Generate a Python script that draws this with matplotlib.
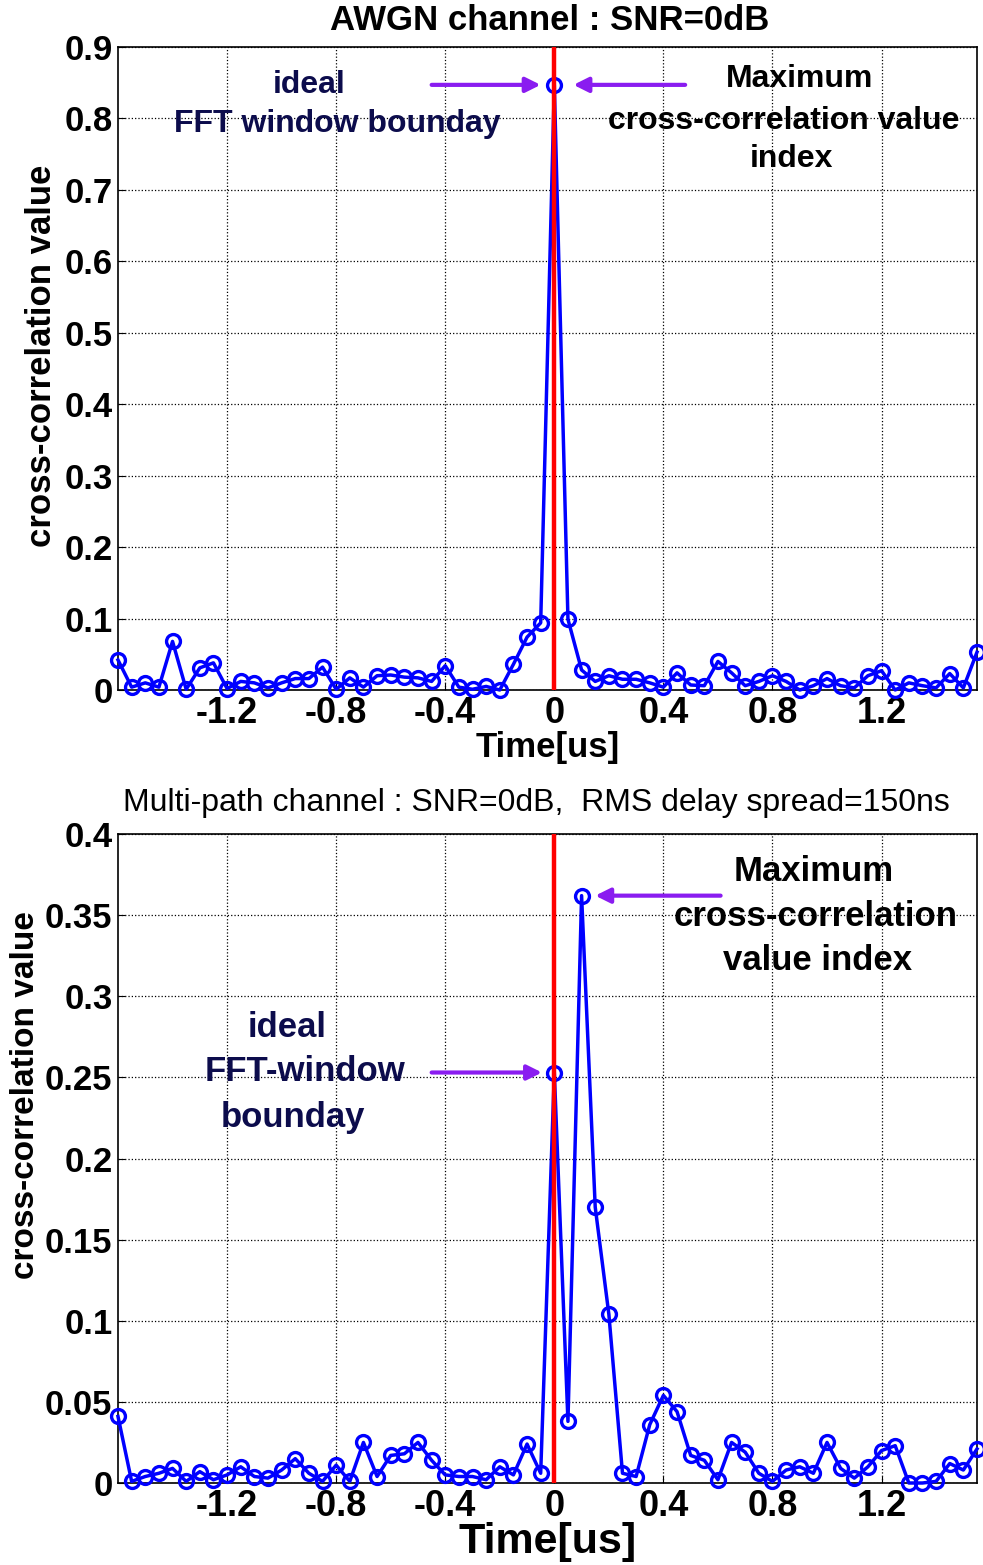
import matplotlib
matplotlib.use("Agg")
import matplotlib.pyplot as plt
import numpy as np

# 时间轴 (us)，64 点，间隔 0.05us
time_us = np.round(np.arange(-1.6, 1.551, 0.05), 2)

# AWGN 信道互相关值
awgn_corr = [0.042, 0.004, 0.010, 0.004, 0.068, 0.001, 0.031, 0.038, 0.002, 0.012,
             0.010, 0.003, 0.010, 0.016, 0.016, 0.032, 0.001, 0.017, 0.004, 0.020,
             0.021, 0.018, 0.017, 0.012, 0.034, 0.004, 0.001, 0.005, 0.000, 0.036,
             0.074, 0.094, 0.847, 0.099, 0.028, 0.012, 0.020, 0.015, 0.015, 0.010,
             0.004, 0.024, 0.007, 0.006, 0.040, 0.024, 0.006, 0.012, 0.020, 0.012,
             0.000, 0.006, 0.016, 0.006, 0.003, 0.020, 0.027, 0.000, 0.010, 0.006,
             0.003, 0.023, 0.003, 0.053]

# 多径信道互相关值
multi_corr = [0.041, 0.001, 0.004, 0.006, 0.009, 0.001, 0.007, 0.002, 0.005, 0.010,
              0.004, 0.003, 0.008, 0.015, 0.006, 0.001, 0.011, 0.001, 0.025, 0.004,
              0.017, 0.018, 0.025, 0.014, 0.005, 0.004, 0.004, 0.002, 0.010, 0.005,
              0.024, 0.006, 0.253, 0.038, 0.362, 0.170, 0.104, 0.006, 0.004, 0.036,
              0.054, 0.044, 0.017, 0.014, 0.002, 0.025, 0.019, 0.006, 0.001, 0.008,
              0.010, 0.006, 0.025, 0.009, 0.003, 0.010, 0.020, 0.023, 0.000, 0.000,
              0.001, 0.012, 0.008, 0.021]

xticks = [-1.2, -0.8, -0.4, 0, 0.4, 0.8, 1.2]
xtick_labels = ['-1.2', '-0.8', '-0.4', '0', '0.4', '0.8', '1.2']
top_yticks = [0, 0.1, 0.2, 0.3, 0.4, 0.5, 0.6, 0.7, 0.8, 0.9]
top_ylabels = ['0', '0.1', '0.2', '0.3', '0.4', '0.5', '0.6', '0.7', '0.8', '0.9']
bot_yticks = [0, 0.05, 0.1, 0.15, 0.2, 0.25, 0.3, 0.35, 0.4]
bot_ylabels = ['0', '0.05', '0.1', '0.15', '0.2', '0.25', '0.3', '0.35', '0.4']

FONT = ['Liberation Sans', 'DejaVu Sans']
plt.rcParams['font.family'] = FONT
NAVY = '#0c0c4c'
PURPLE = '#8a1cf0'

W, H = 983, 1565
fig = plt.figure(figsize=(W / 100, H / 100), dpi=100)


def px_axes(left, top, right, bottom):
    return fig.add_axes([left / W, 1 - bottom / H, (right - left) / W, (bottom - top) / H])


def style_axes(ax, yticks, ylabels):
    ax.plot(time_data, corr_data, '-o', color='#0000ff', lw=2.5, ms=10,
            mfc='none', mew=2.4, zorder=3, clip_on=False)
    ax.axvline(0, color='#ff0000', lw=3.2, zorder=4)
    ax.set_xlim(-1.6, 1.55)
    ax.set_xticks(xticks)
    ax.set_xticklabels(xtick_labels, fontsize=26, fontweight='bold')
    ax.set_yticks(yticks)
    ax.set_yticklabels(ylabels, fontsize=25, fontweight='bold')
    ax.set_ylim(yticks[0], yticks[-1])
    ax.tick_params(direction='in', length=5, pad=4)
    ax.grid(True, color='black', linestyle=':', linewidth=0.9)
    for s in ax.spines.values():
        s.set_linewidth(1.2)


# ---- 上图：AWGN ----
ax1 = px_axes(118, 47, 977, 690)
time_data, corr_data = time_us, awgn_corr
style_axes(ax1, top_yticks, top_ylabels)
ax1.set_ylabel('cross-correlation value', fontsize=25, fontweight='bold')
ax1.yaxis.set_label_coords(-0.07, 0.52)
ax1.set_xlabel('Time[us]', fontsize=25, fontweight='bold', labelpad=0)
fig.text(550 / W, 1 - 21 / H, 'AWGN channel : SNR=0dB', ha='center', va='center',
         fontsize=25, fontweight='bold')

ax1.text(-0.9, 0.847, 'ideal', ha='center', va='center', fontsize=23,
         fontweight='bold', color=NAVY)
ax1.text(-0.795, 0.792, 'FFT window bounday', ha='center', va='center', fontsize=23,
         fontweight='bold', color=NAVY)
ax1.annotate('', xy=(-0.04, 0.847), xytext=(-0.46, 0.847),
             arrowprops=dict(arrowstyle='-|>', color=PURPLE, lw=3, mutation_scale=22))
ax1.annotate('', xy=(0.06, 0.847), xytext=(0.49, 0.847),
             arrowprops=dict(arrowstyle='-|>', color=PURPLE, lw=3, mutation_scale=22))
ax1.text(0.9, 0.855, 'Maximum', ha='center', va='center', fontsize=23,
         fontweight='bold', color='black')
ax1.text(0.84, 0.797, 'cross-correlation value', ha='center', va='center', fontsize=23,
         fontweight='bold', color='black')
ax1.text(0.87, 0.743, 'index', ha='center', va='center', fontsize=23,
         fontweight='bold', color='black')

# ---- 下图：多径 ----
ax2 = px_axes(118, 834, 977, 1483)
time_data, corr_data = time_us, multi_corr
style_axes(ax2, bot_yticks, bot_ylabels)
ax2.set_ylabel('cross-correlation value', fontsize=24, fontweight='bold')
ax2.yaxis.set_label_coords(-0.09, 0.598)
ax2.set_xlabel('Time[us]', fontsize=31, fontweight='bold', labelpad=-1)
fig.text(536 / W, 1 - 803 / H, 'Multi-path channel : SNR=0dB,  RMS delay spread=150ns',
         ha='center', va='center', fontsize=23)

ax2.text(-0.98, 0.281, 'ideal', ha='center', va='center', fontsize=25,
         fontweight='bold', color=NAVY)
ax2.text(-0.915, 0.2535, 'FFT-window', ha='center', va='center', fontsize=25,
         fontweight='bold', color=NAVY)
ax2.text(-0.96, 0.2255, 'bounday', ha='center', va='center', fontsize=25,
         fontweight='bold', color=NAVY)
ax2.annotate('', xy=(-0.035, 0.253), xytext=(-0.46, 0.253),
             arrowprops=dict(arrowstyle='-|>', color=PURPLE, lw=3, mutation_scale=22))
ax2.annotate('', xy=(0.14, 0.362), xytext=(0.62, 0.362),
             arrowprops=dict(arrowstyle='-|>', color=PURPLE, lw=3, mutation_scale=22))
ax2.text(0.95, 0.377, 'Maximum', ha='center', va='center', fontsize=25,
         fontweight='bold', color='black')
ax2.text(0.96, 0.349, 'cross-correlation', ha='center', va='center', fontsize=25,
         fontweight='bold', color='black')
ax2.text(0.965, 0.322, 'value index', ha='center', va='center', fontsize=25,
         fontweight='bold', color='black')

fig.savefig('out.png', dpi=100)
